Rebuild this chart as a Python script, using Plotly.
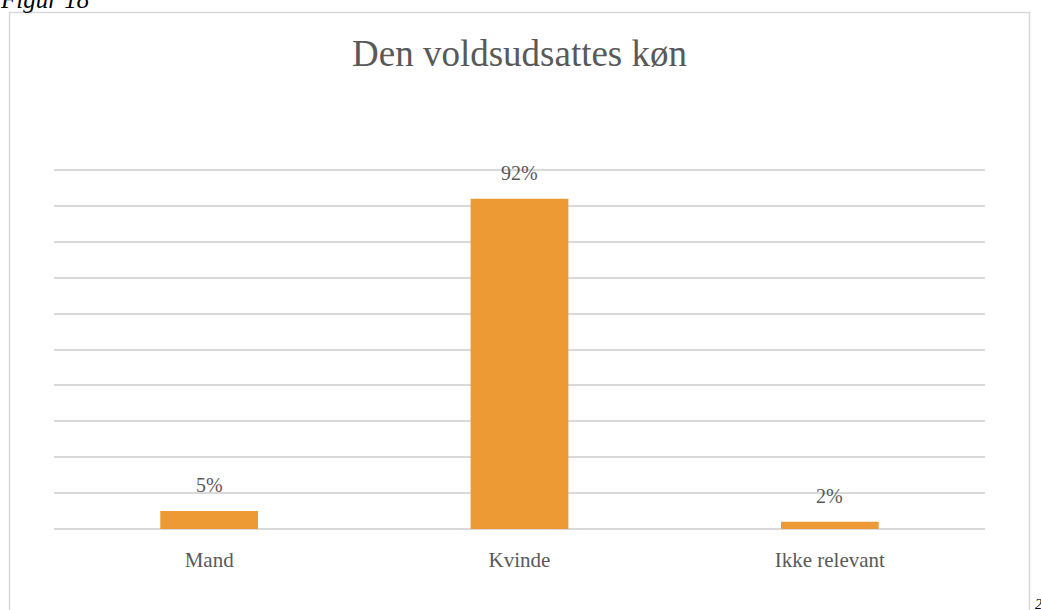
import plotly.graph_objects as go

categories = ["Mand", "Kvinde", "Ikke relevant"]
values = [5, 92, 2]
labels = ["5%", "92%", "2%"]

W, H = 1041, 610
L, R, T, B = 54, 985, 169, 529  # plot area in pixels


def px(x):
    # pixel x -> paper x
    return (x - L) / (R - L)


def py(y):
    # pixel y -> paper y
    return (B - y) / (B - T)


font_name = "Liberation Serif, DejaVu Serif, serif"
grey = "#595959"

fig = go.Figure()

fig.add_trace(go.Bar(
    x=categories, y=values,
    marker=dict(color="#ED9A35", line=dict(width=0)),
    hoverinfo="skip",
))

# value labels above the bars
for cat, val, lab in zip(categories, values, labels):
    fig.add_annotation(x=cat, y=val, text=lab, showarrow=False,
                       yanchor="bottom", yshift=13,
                       font=dict(family=font_name, size=20, color=grey))

fig.update_layout(
    width=W, height=H,
    margin=dict(l=L, r=W - R, t=T, b=H - B),
    paper_bgcolor="white", plot_bgcolor="white",
    bargap=0.685,
    showlegend=False,
    font=dict(family=font_name, color=grey),
    title=dict(text="Den voldsudsattes køn", x=px(519.5), xref="paper",
               xanchor="center", y=1 - 53 / H, yanchor="middle",
               font=dict(family=font_name, size=37, color=grey)),
    xaxis=dict(showgrid=False, showline=False, ticks="",
               ticklabelstandoff=16,
               tickfont=dict(family=font_name, size=21, color=grey)),
    yaxis=dict(range=[0, 100.3], tick0=0, dtick=10, showticklabels=False,
               showgrid=True, gridcolor="#D9D9D9", gridwidth=2,
               zeroline=True, zerolinecolor="#D9D9D9", zerolinewidth=2),
)

# outer chart border
fig.add_shape(type="rect", xref="paper", yref="paper",
              x0=px(9.5), x1=px(1029.5), y0=py(640), y1=py(12.5),
              line=dict(color="#D9D9D9", width=1.5), fillcolor="rgba(0,0,0,0)",
              layer="below")

fig.add_annotation(text="<i>Figur 18</i>", xref="paper", yref="paper",
                   x=px(-2), y=py(0), xanchor="left", yanchor="middle",
                   showarrow=False,
                   font=dict(family=font_name, size=25, color="black"))
fig.add_annotation(text="<i>2</i>", xref="paper", yref="paper",
                   x=px(1033), y=py(604), xanchor="left", yanchor="middle",
                   showarrow=False,
                   font=dict(family=font_name, size=14, color="black"))

# drop the default page margin so the figure sits at the window corner
fig.write_html("out.html", config={"displayModeBar": False},
               post_script="document.body.style.margin='0px';")
